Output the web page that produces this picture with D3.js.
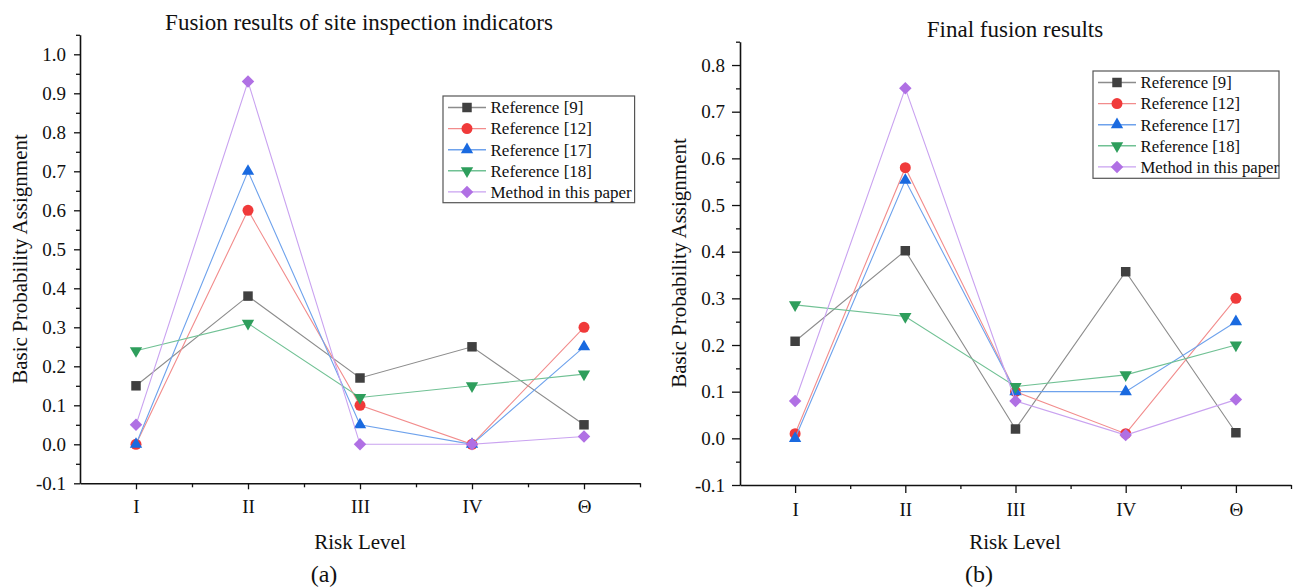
<!DOCTYPE html>
<meta charset="utf-8">
<style>
  body { margin: 0; background: #fff; }
  svg { font-family: "Liberation Serif", "Times New Roman", serif; }
</style>
<svg width="1300" height="588"></svg>

<script src="https://d3js.org/d3.v7.min.js"></script>
<script>
// risk levels on the x axis
var levels = ["I", "II", "III", "IV", "Θ"]

var seriesNames = ["Reference [9]", "Reference [12]", "Reference [17]", "Reference [18]", "Method in this paper"]

// (a) fusion results of site inspection indicators
var ref9A   = [0.15, 0.38, 0.17, 0.25, 0.05]
var ref12A  = [0.00, 0.60, 0.10, 0.00, 0.30]
var ref17A  = [0.00, 0.70, 0.05, 0.00, 0.25]
var ref18A  = [0.24, 0.31, 0.12, 0.15, 0.18]
var methodA = [0.05, 0.93, 0.00, 0.00, 0.02]

// (b) final fusion results
var ref9B   = [0.208, 0.402, 0.020, 0.357, 0.012]
var ref12B  = [0.010, 0.580, 0.100, 0.010, 0.300]
var ref17B  = [0.000, 0.553, 0.100, 0.100, 0.250]
var ref18B  = [0.286, 0.261, 0.111, 0.136, 0.200]
var methodB = [0.080, 0.750, 0.080, 0.007, 0.083]

var markerColors = ["#404040", "#f03a3a", "#1a6ae0", "#2e9e5c", "#b070e4"]
var lineColors   = ["#8c8c8c", "#f28c8c", "#6ea2ec", "#70c194", "#c9a2f0"]

var svg = d3.select("svg")

// symbol path per series: square, circle, triangle, down triangle, diamond
function markerPath(i) {
  if (i === 0) return d3.symbol(d3.symbolSquare, 90)()
  if (i === 1) return d3.symbol(d3.symbolCircle, 95)()
  if (i === 2 || i === 3) return d3.symbol(d3.symbolTriangle, 66)()
  return d3.symbol(d3.symbolSquare, 78)()
}
function markerRotate(i) {
  if (i === 3) return " rotate(180)"
  if (i === 4) return " rotate(45)"
  return ""
}

function fmt(d) { return (Math.abs(d) < 1e-9 ? 0 : d).toFixed(1) }

function drawPanel(p) {
  var g = svg.append("g")

  var x = d3.scaleLinear().domain([0.5, 5.5]).range(p.xRange)
  var y = d3.scaleLinear().domain(p.yDomain).range(p.yRange)

  var major = d3.range(-1, Math.round(p.yMax * 10) + 1).map(function (d) { return d / 10 })
  var minor = major.slice(0, -1).map(function (d) { return d + 0.05 })
  if (p.yDomain[1] - major[major.length - 1] > 0.04) minor.push(major[major.length - 1] + 0.05)

  // y axis
  g.append("g")
    .attr("transform", "translate(" + p.xRange[0] + ",0)")
    .call(d3.axisLeft(y).tickValues(major).tickSize(p.tick).tickSizeOuter(0)
      .tickPadding(p.pad).tickFormat(fmt))
  g.append("g")
    .attr("transform", "translate(" + p.xRange[0] + ",0)")
    .call(d3.axisLeft(y).tickValues(minor).tickSize(4).tickSizeOuter(0).tickFormat(""))
    .select(".domain").remove()

  // x axis
  g.append("g")
    .attr("transform", "translate(0," + p.yRange[0] + ")")
    .call(d3.axisBottom(x).tickValues([1, 2, 3, 4, 5]).tickSize(p.tick).tickSizeOuter(0)
      .tickPadding(10).tickFormat(function (d) { return levels[d - 1] }))
  g.append("g")
    .attr("transform", "translate(0," + p.yRange[0] + ")")
    .call(d3.axisBottom(x).tickValues([1.5, 2.5, 3.5, 4.5, 5.5]).tickSize(4).tickSizeOuter(0).tickFormat(""))
    .select(".domain").remove()

  g.selectAll(".domain").attr("stroke", "#111").attr("stroke-width", 1.6)
  g.selectAll(".tick line").attr("stroke", "#111").attr("stroke-width", 1.3)
  g.selectAll(".tick text")
    .attr("font-family", "Liberation Serif")
    .attr("font-size", 19)
    .attr("fill", "#111")

  // series
  p.series.forEach(function (vals, i) {
    var line = d3.line()
      .x(function (d, j) { return x(j + 1) })
      .y(function (d) { return y(d) })
    g.append("path")
      .attr("d", line(vals))
      .attr("fill", "none")
      .attr("stroke", lineColors[i])
      .attr("stroke-width", 1.1)
    g.selectAll(null)
      .data(vals)
      .enter().append("path")
        .attr("d", markerPath(i))
        .attr("transform", function (d, j) {
          return "translate(" + x(j + 1) + "," + y(d) + ")" + markerRotate(i)
        })
        .attr("fill", markerColors[i])
  })

  // titles and labels
  g.append("text")
    .attr("x", p.titleX).attr("y", p.titleY)
    .attr("text-anchor", "middle")
    .attr("font-size", 23)
    .attr("fill", "#111")
    .text(p.title)

  g.append("text")
    .attr("x", p.xLabelX).attr("y", 549)
    .attr("text-anchor", "middle")
    .attr("font-size", 21)
    .attr("fill", "#111")
    .text("Risk Level")

  g.append("text")
    .attr("transform", "translate(" + p.yLabelX + "," + p.yLabelY + ") rotate(-90)")
    .attr("text-anchor", "middle")
    .attr("font-size", 21)
    .attr("fill", "#111")
    .text("Basic Probability Assignment")

  g.append("text")
    .attr("x", p.capX).attr("y", 582)
    .attr("text-anchor", "middle")
    .attr("font-size", 24)
    .attr("fill", "#111")
    .text(p.caption)

  // legend
  var lg = g.append("g").attr("transform", "translate(" + p.legend[0] + "," + p.legend[1] + ")")
  lg.append("rect")
    .attr("width", p.legend[2]).attr("height", p.legend[3])
    .attr("fill", "#fff")
    .attr("stroke", "#555")
    .attr("stroke-width", 1.2)
  seriesNames.forEach(function (name, i) {
    var ry = 11.5 + i * 21.1
    lg.append("line")
      .attr("x1", 5).attr("x2", 43).attr("y1", ry).attr("y2", ry)
      .attr("stroke", lineColors[i]).attr("stroke-width", 1.4)
    lg.append("path")
      .attr("d", markerPath(i))
      .attr("transform", "translate(24," + ry + ")" + markerRotate(i))
      .attr("fill", markerColors[i])
    lg.append("text")
      .attr("x", 47.5).attr("y", ry + 5.8)
      .attr("font-size", p.legendFont)
      .attr("fill", "#111")
      .text(name)
  })
}

drawPanel({
  series: [ref9A, ref12A, ref17A, ref18A, methodA],
  xRange: [80, 640],
  yDomain: [-0.1, 1.05],
  yRange: [483.3, 34.8],
  yMax: 1.0,
  tick: 6, pad: 8,
  title: "Fusion results of site inspection indicators",
  titleX: 359, titleY: 30,
  xLabelX: 360,
  yLabelX: 27, yLabelY: 259,
  caption: "(a)", capX: 324,
  legend: [443, 96, 191.6, 106.7],
  legendFont: 17
})

drawPanel({
  series: [ref9B, ref12B, ref17B, ref18B, methodB],
  xRange: [740, 1291],
  yDomain: [-0.1, 0.85],
  yRange: [485, 41.7],
  yMax: 0.8,
  tick: 8, pad: 7,
  title: "Final fusion results",
  titleX: 1015, titleY: 36.5,
  xLabelX: 1015,
  yLabelX: 686, yLabelY: 263,
  caption: "(b)", capX: 979,
  legend: [1093, 71, 186, 107.3],
  legendFont: 16.7
})
</script>
